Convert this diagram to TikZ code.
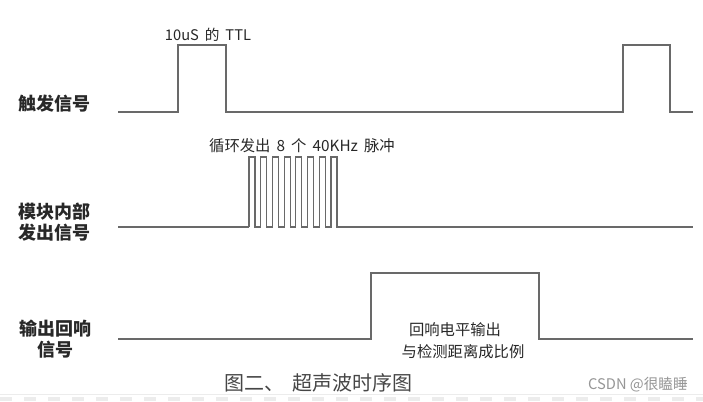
\documentclass[tikz,border=0pt]{standalone}
\usepackage{fontspec}
\newfontfamily\cjk{Noto Sans CJK SC}
\definecolor{wave}{RGB}{105,105,105}
\definecolor{txt}{RGB}{40,40,40}
\definecolor{cap}{RGB}{70,70,70}
\definecolor{wm}{RGB}{150,150,150}
\definecolor{strip}{RGB}{236,236,236}
\begin{document}
\begin{tikzpicture}[x=0.75pt,y=-0.75pt,
  sig/.style={draw=wave,line width=1.6pt,line join=miter},
  thin sig/.style={draw=wave,line width=0.9pt,line join=miter},
  lab/.style={font=\cjk\bfseries\fontsize{13.5}{15.75}\selectfont,text=txt,inner sep=0pt,align=center},
  ann/.style={font=\cjk\fontsize{11}{13}\selectfont,text=txt,inner sep=0pt},
  ann2/.style={font=\cjk\fontsize{11.5}{13}\selectfont,text=txt,inner sep=0pt},
  ann3/.style={font=\cjk\fontsize{11.5}{16.5}\selectfont,text=txt,inner sep=0pt,align=center},
]
\useasboundingbox (0,0) rectangle (703,401);
\fill[white] (0,0) rectangle (703,401);
% bottom strip
\draw[strip,line width=0.6pt] (0,394.5) -- (703,394.5);
\draw[strip,line width=3.5pt,dash pattern=on 9pt off 9pt] (0,399) -- (703,399);

% labels
\node[lab] (l1) at (54,104) {触发信号};
\node[lab] (l2) at (54,222) {模块内部\\发出信号};
\node[lab] (l3) at (55,339.5) {输出回响\\信号};

% trigger signal
\draw[sig] (118,112) -- (178,112) -- (178,45) -- (226,45) -- (226,112)
  -- (623,112) -- (623,45) -- (670,45) -- (670,112) -- (693,112);
\node[ann] (a1) at (208,35) {10uS\hspace{2pt} 的\hspace{2pt} TTL};

% module internal signal
\draw[sig] (118,227) -- (249,227);
\draw[thin sig] (249,227)
  \foreach \i in {0,...,7} { -- ++(0,-70) -- ++(6,0) -- ++(0,70) -- ++(5.7,0) };
\draw[sig] (341,227) -- (693,227);
\node[ann2] (a2) at (302,146) {循环发出\hspace{2pt} 8\hspace{2pt} 个\hspace{2pt} 40KHz\hspace{2pt} 脉冲};

% echo signal
\draw[sig] (118,339) -- (371,339) -- (371,273) -- (539,273) -- (539,339) -- (693,339);
\node[ann3] (a3) at (455,341) {回响电平输出\\\hspace*{12pt}与检测距离成比例};

% caption and watermark
\node[font=\cjk\fontsize{15}{17}\selectfont,text=cap,inner sep=0pt] (cp) at (318,383) {图二、\hspace{6pt}超声波时序图};
\node[font=\cjk\fontsize{11}{13}\selectfont,text=wm,inner sep=0pt] (wmk) at (638,385) {CSDN @很瞌睡};
\end{tikzpicture}
\end{document}
